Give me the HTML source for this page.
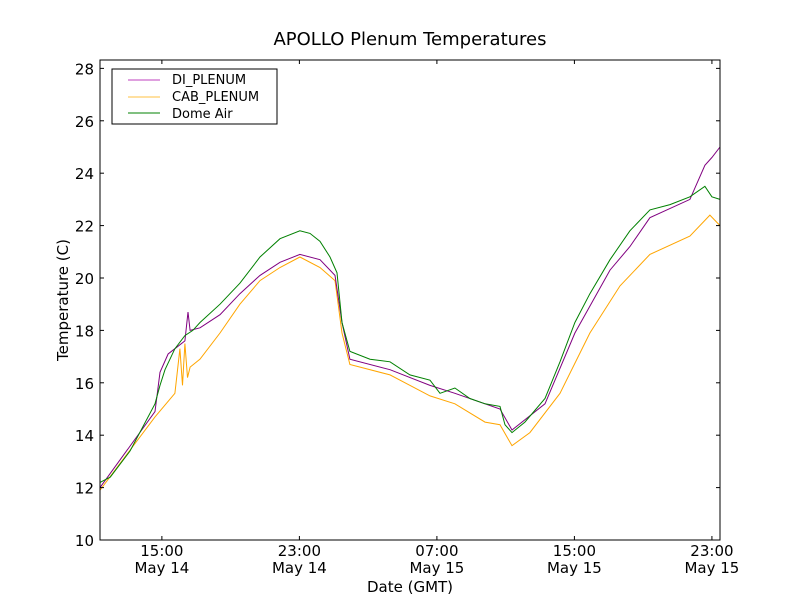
<!DOCTYPE html>
<html><head><meta charset="utf-8"><style>
body{margin:0;background:#fff;}
svg{display:block;font-family:"DejaVu Sans","Liberation Sans",sans-serif;}
</style></head><body>
<svg id="chart" width="800" height="600" viewBox="0 0 800 600">
<rect width="800" height="600" fill="#fff"/>
<text x="410" y="45" text-anchor="middle" font-size="18">APOLLO Plenum Temperatures</text>
<g id="plot"></g>
<rect x="100" y="60" width="620" height="480" fill="none" stroke="#000" stroke-width="1"/>
<g id="axes"></g>
<text x="410" y="592" text-anchor="middle" font-size="15">Date (GMT)</text>
<text x="68" y="300" text-anchor="middle" font-size="15" transform="rotate(-90 68 300)">Temperature (C)</text>
<g>
<rect x="112" y="69" width="165" height="55" fill="#fff" stroke="#000" stroke-width="1"/>
<line x1="128" y1="80" x2="160" y2="80" stroke="#bf40bf" stroke-width="1"/>
<text x="172" y="84" font-size="13">DI_PLENUM</text>
<line x1="128" y1="97" x2="160" y2="97" stroke="#ffc040" stroke-width="1"/>
<text x="172" y="101" font-size="13">CAB_PLENUM</text>
<line x1="128" y1="113" x2="160" y2="113" stroke="#008000" stroke-width="1"/>
<text x="172" y="118" font-size="13">Dome Air</text>
</g>
</svg>
<script>
// hours since 00:00 May 14
const xTicks = [15, 23, 31, 39, 47];
const xTickTime = ["15:00", "23:00", "07:00", "15:00", "23:00"];
const xTickDate = ["May 14", "May 14", "May 15", "May 15", "May 15"];
const yTicks = [10, 12, 14, 16, 18, 20, 22, 24, 26, 28];

const domeT = [11.4,12.0,13.15,14.6,14.89,15.18,15.76,16.34,16.8,17.22,18.38,19.54,20.71,21.87,23.03,23.62,24.2,24.78,25.19,25.48,25.94,27.11,28.27,29.43,30.6,31.18,32.05,32.92,33.8,34.67,34.96,35.37,36.12,37.29,38.16,39.03,39.9,41.07,42.23,43.39,44.56,45.72,46.59,47.0,47.47];
const domeV = [12.2,12.4,13.4,15.2,15.9,16.5,17.3,17.8,18.0,18.3,19.0,19.8,20.8,21.5,21.8,21.7,21.4,20.8,20.2,18.3,17.2,16.9,16.8,16.3,16.1,15.6,15.8,15.4,15.2,15.1,14.4,14.1,14.5,15.4,16.8,18.3,19.4,20.7,21.8,22.6,22.8,23.1,23.5,23.1,23.0];

const diT = [11.4,14.6,14.89,15.36,15.76,16.34,16.52,16.64,17.22,18.38,19.54,20.71,21.87,23.03,24.2,25.07,25.48,25.94,28.27,30.6,32.05,34.67,35.37,37.29,39.03,41.07,42.23,43.39,45.72,46.59,47.0,47.47];
const diV = [12.0,14.9,16.4,17.1,17.3,17.6,18.7,18.0,18.1,18.6,19.4,20.1,20.6,20.9,20.7,20.1,18.3,16.9,16.5,15.9,15.6,15.0,14.2,15.2,17.9,20.3,21.2,22.3,23.0,24.3,24.6,25.0];

const cabT = [11.4,14.6,15.76,16.05,16.2,16.34,16.49,16.64,17.22,18.38,19.54,20.71,21.87,23.03,24.2,25.07,25.48,25.94,28.27,30.6,32.05,33.8,34.67,35.37,36.41,38.16,39.9,41.65,43.39,45.72,46.88,47.47];
const cabV = [11.9,14.7,15.6,17.3,15.9,17.5,16.2,16.6,16.9,17.9,19.0,19.9,20.4,20.8,20.4,19.9,17.9,16.7,16.3,15.5,15.2,14.5,14.4,13.6,14.1,15.6,17.9,19.7,20.9,21.6,22.4,22.0];

const X0 = 100, X1 = 720, Y0 = 540, Y1 = 60;
const tMin = 11.4, tMax = 47.47, vMin = 10, vMax = 28.32;
function xs(t){ return X0 + (t - tMin) / (tMax - tMin) * (X1 - X0); }
function ys(v){ return Y0 - (v - vMin) / (vMax - vMin) * (Y0 - Y1); }
const NS = "http://www.w3.org/2000/svg";
const plot = document.getElementById("plot");
const axes = document.getElementById("axes");

function series(T, V, color, name){
  const p = document.createElementNS(NS, "polyline");
  p.setAttribute("points", T.map((t,i)=>xs(t).toFixed(1)+","+ys(V[i]).toFixed(1)).join(" "));
  p.setAttribute("fill","none");
  p.setAttribute("stroke",color);
  p.setAttribute("stroke-width","1");
  
  
  plot.appendChild(p);
}
series(cabT, cabV, "#ffa500", "series-cab-plenum");
series(diT, diV, "#800080", "series-di-plenum");
series(domeT, domeV, "#008000", "series-dome-air");

yTicks.forEach(v=>{
  const y = ys(v);
  [[X0, X0+4],[X1, X1-4]].forEach(([a,b])=>{
    const l = document.createElementNS(NS,"line");
    l.setAttribute("x1",a); l.setAttribute("x2",b); l.setAttribute("y1",y); l.setAttribute("y2",y);
    l.setAttribute("stroke","#000");
    
    
    axes.appendChild(l);
  });
  const tx = document.createElementNS(NS,"text");
  tx.setAttribute("x", X0-6); tx.setAttribute("y", y+6);
  tx.setAttribute("text-anchor","end"); tx.setAttribute("font-size","15");
  tx.textContent = v;
  
  
  axes.appendChild(tx);
});
xTicks.forEach((t,i)=>{
  const x = xs(t);
  [[Y0, Y0-4],[Y1, Y1+4]].forEach(([a,b])=>{
    const l = document.createElementNS(NS,"line");
    l.setAttribute("x1",x); l.setAttribute("x2",x); l.setAttribute("y1",a); l.setAttribute("y2",b);
    l.setAttribute("stroke","#000");
    
    
    axes.appendChild(l);
  });
  const t1 = document.createElementNS(NS,"text");
  t1.setAttribute("x", x); t1.setAttribute("y", 556);
  t1.setAttribute("text-anchor","middle"); t1.setAttribute("font-size","15");
  t1.textContent = xTickTime[i];
  
  
  axes.appendChild(t1);
  const t2 = document.createElementNS(NS,"text");
  t2.setAttribute("x", x); t2.setAttribute("y", 573);
  t2.setAttribute("text-anchor","middle"); t2.setAttribute("font-size","15");
  t2.textContent = xTickDate[i];
  
  
  axes.appendChild(t2);
});
</script>
</body></html>
